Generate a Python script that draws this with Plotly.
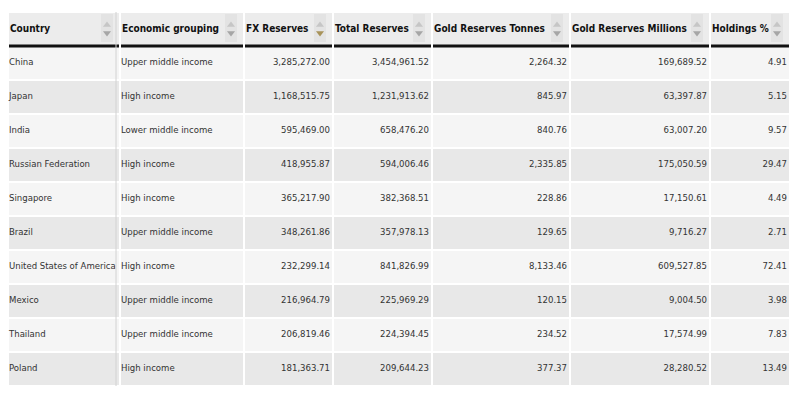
import plotly.graph_objects as go

countries = ["China", "Japan", "India", "Russian Federation", "Singapore", "Brazil",
             "United States of America", "Mexico", "Thailand", "Poland"]
grouping = ["Upper middle income", "High income", "Lower middle income", "High income",
            "High income", "Upper middle income", "High income", "Upper middle income",
            "Upper middle income", "High income"]
fx_reserves = [3285272.00, 1168515.75, 595469.00, 418955.87, 365217.90, 348261.86,
               232299.14, 216964.79, 206819.46, 181363.71]
total_reserves = [3454961.52, 1231913.62, 658476.20, 594006.46, 382368.51, 357978.13,
                  841826.99, 225969.29, 224394.45, 209644.23]
gold_tonnes = [2264.32, 845.97, 840.76, 2335.85, 228.86, 129.65, 8133.46, 120.15, 234.52, 377.37]
gold_millions = [169689.52, 63397.87, 63007.20, 175050.59, 17150.61, 9716.27, 609527.85,
                 9004.50, 17574.99, 28280.52]
holdings_pct = [4.91, 5.15, 9.57, 29.47, 4.49, 2.71, 72.41, 3.98, 7.83, 13.49]

headers = ["Country", "Economic grouping", "FX Reserves", "Total Reserves",
           "Gold Reserves Tonnes", "Gold Reserves Millions", "Holdings %"]
sorted_col = "FX Reserves"

# layout: column widths in px; x axis unit = 1 px, y axis unit = one 34px row
col_px = [112, 124, 89, 99, 138, 140, 80]
edges = [0]
for w in col_px:
    edges.append(edges[-1] + w)
n_rows = len(countries)
y_edges = list(range(n_rows + 2))  # header row + body rows
ROW_PX = 34

text_cols = [countries, grouping]
num_cols = [fx_reserves, total_reserves, gold_tonnes, gold_millions, holdings_pct]
CELL_FONT = dict(family="DejaVu Sans Condensed, Open Sans", size=9.5, color="#333333")

fig = go.Figure()

# cell backgrounds: header, then zebra rows, white gaps between cells
z = [[0] * len(col_px)] + [[1 + (r % 2)] * len(col_px) for r in range(n_rows)]
fig.add_trace(go.Heatmap(
    z=z, x=edges, y=y_edges,
    colorscale=[[0, "#ececec"], [0.5, "#f5f5f5"], [1, "#e8e8e8"]],
    zmin=0, zmax=2, showscale=False, xgap=2, ygap=2, hoverinfo="skip",
))

# left-aligned text columns
xs, ys, ts = [], [], []
for c, col in enumerate(text_cols):
    for r, v in enumerate(col):
        xs.append(edges[c] + 1)
        ys.append(r + 1.5)
        ts.append(v)
fig.add_trace(go.Scatter(
    x=xs, y=ys, text=ts, mode="text", textposition="middle right",
    textfont=CELL_FONT, hoverinfo="skip", showlegend=False,
))

# right-aligned numeric columns
xs, ys, ts = [], [], []
for c, col in enumerate(num_cols, start=len(text_cols)):
    for r, v in enumerate(col):
        xs.append(edges[c + 1] - 3)
        ys.append(r + 1.5)
        ts.append(f"{v:,.2f}")
fig.add_trace(go.Scatter(
    x=xs, y=ys, text=ts, mode="text", textposition="middle left",
    textfont=CELL_FONT, hoverinfo="skip", showlegend=False,
))

# header labels
fig.add_trace(go.Scatter(
    x=[edges[c] + 2 for c in range(len(headers))], y=[0.5] * len(headers),
    text=headers, mode="text", textposition="middle right",
    textfont=dict(family="DejaVu Sans Condensed, Liberation Sans", size=10,
                  color="#111111", weight="bold"),
    hoverinfo="skip", showlegend=False,
))

# sort control: slightly darker box with up/down arrows
arrow_x = [edges[c + 1] - 13 for c in range(len(headers))]
bx, by = [], []
for ax in arrow_x:
    bx += [ax - 6, ax + 6, ax + 6, ax - 6, ax - 6, None]
    by += [2 / ROW_PX, 2 / ROW_PX, 30 / ROW_PX, 30 / ROW_PX, 2 / ROW_PX, None]
fig.add_trace(go.Scatter(
    x=bx, y=by, mode="lines", fill="toself", fillcolor="#e3e3e3",
    line=dict(width=0), hoverinfo="skip", showlegend=False,
))
fig.add_trace(go.Scatter(
    x=arrow_x, y=[13 / ROW_PX] * len(headers), mode="markers",
    marker=dict(symbol="triangle-up", size=7, color="#c6c6c6", line=dict(width=0)),
    hoverinfo="skip", showlegend=False,
))
fig.add_trace(go.Scatter(
    x=arrow_x, y=[21 / ROW_PX] * len(headers), mode="markers",
    marker=dict(symbol="triangle-down", size=7, line=dict(width=0),
                color=["#a8935a" if h == sorted_col else "#a6a6a6" for h in headers]),
    hoverinfo="skip", showlegend=False,
))

# thick black rule under each header cell
for c in range(len(headers)):
    fig.add_shape(type="line", xref="x", yref="y", x0=edges[c] + 1, x1=edges[c + 1] - 1,
                  y0=1, y1=1, line=dict(color="#111111", width=3))
# grey divider inside the first column's right edge
fig.add_shape(type="line", xref="x", yref="y", x0=edges[1] - 4, x1=edges[1] - 4,
              y0=0, y1=n_rows + 1, line=dict(color="#d2d2d2", width=1))

fig.update_xaxes(range=[0, edges[-1]], visible=False, fixedrange=True)
fig.update_yaxes(range=[n_rows + 1, 0], visible=False, fixedrange=True)
fig.update_layout(
    width=800, height=400,
    margin=dict(l=0, r=800 - edges[-1], t=4, b=400 - 4 - ROW_PX * (n_rows + 1)),
    paper_bgcolor="white", plot_bgcolor="white",
    showlegend=False,
)

fig.write_html("out.html")
